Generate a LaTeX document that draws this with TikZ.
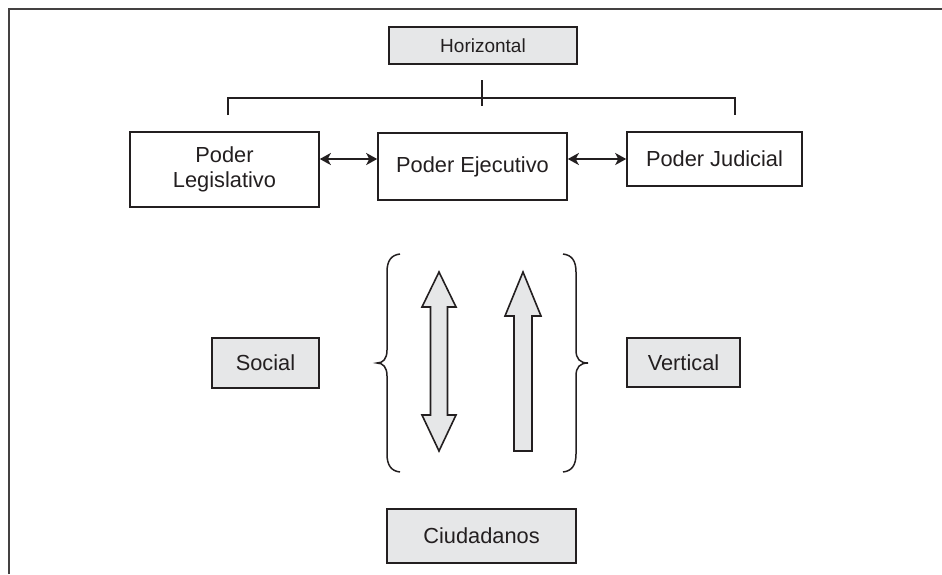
\documentclass[tikz,border=0pt]{standalone}
\usepackage{fontspec}
\setmainfont{Liberation Sans}
\usetikzlibrary{arrows.meta}
\definecolor{ink}{HTML}{231F20}
\definecolor{boxgray}{HTML}{E6E7E8}
\tikzset{
  plainbox/.style={draw=ink, line width=1.6pt, fill=white, text=ink, inner sep=0pt,
    font=\fontsize{21.8}{25}\selectfont, align=center},
  graybox/.style={plainbox, fill=boxgray},
  link/.style={draw=ink, line width=2.6pt, {Stealth[length=11pt,width=12pt,inset=3pt]}-{Stealth[length=11pt,width=12pt,inset=3pt]}},
  bracketline/.style={draw=ink, line width=1.5pt},
  blockarrow/.style={draw=ink, line width=1.6pt, fill=boxgray, line join=miter},
  bracestyle/.style={draw=ink, line width=1.5pt}
}
\begin{document}
\begin{tikzpicture}[x=1pt,y=-1pt]
\useasboundingbox (0,0) rectangle (942,574);
% frame
\draw[draw=ink!85, line width=2.2pt] (9,574) -- (9,9) -- (942,9);
% nodes
\node[graybox, minimum width=188pt, minimum height=37pt, font=\fontsize{19}{22}\selectfont] (hor) at (483,45.5) {Horizontal};
\node[plainbox, minimum width=189pt, minimum height=75pt] (leg) at (224.5,169.5) {Poder\\Legislativo};
\node[plainbox, minimum width=189pt, minimum height=67pt] (eje) at (472.5,166.5) {Poder Ejecutivo};
\node[plainbox, minimum width=175pt, minimum height=54pt] (jud) at (714.5,159) {Poder Judicial};
\node[graybox, minimum width=107pt, minimum height=50pt] (soc) at (265.5,363) {Social};
\node[graybox, minimum width=113pt, minimum height=49pt] (ver) at (683.5,362.5) {Vertical};
\node[graybox, minimum width=189pt, minimum height=54pt] (ciu) at (481.5,536) {Ciudadanos};
% bracket
\coordinate (bl) at (228,115);
\coordinate (br) at (735,115);
\coordinate (bt) at (482,80);
\coordinate (bb) at (482,106);
\draw[bracketline] (bl) -- (bl |- 0,98) -- (br |- 0,98) -- (br);
\draw[bracketline] (bt) -- (bb);
% horizontal links
\draw[link] ([yshift=10.5pt]leg.east) -- ([yshift=7.5pt]eje.west);
\draw[link] ([yshift=7.5pt]eje.east) -- (jud.west);
% block arrows
\draw[blockarrow] (439,272) -- (456,307) -- (447.5,307) -- (447.5,415) -- (456,415) -- (439,451)
  -- (422,415) -- (430.5,415) -- (430.5,307) -- (422,307) -- cycle;
\draw[blockarrow] (523,272) -- (541,316) -- (532,316) -- (532,451) -- (514,451) -- (514,316) -- (505,316) -- cycle;
% braces
\draw[bracestyle] (400,254) .. controls (391,255) and (387,261) .. (387,272) -- (387,350)
  .. controls (387,359) and (383,363) .. (377,363)
  .. controls (383,363) and (387,367) .. (387,376) -- (387,454)
  .. controls (387,465) and (391,471) .. (400,472);
\draw[bracestyle] (563,254) .. controls (572,255) and (576,261) .. (576,272) -- (576,350)
  .. controls (576,359) and (580,363) .. (588,363)
  .. controls (580,363) and (576,367) .. (576,376) -- (576,454)
  .. controls (576,465) and (572,471) .. (563,472);
\end{tikzpicture}
\end{document}
